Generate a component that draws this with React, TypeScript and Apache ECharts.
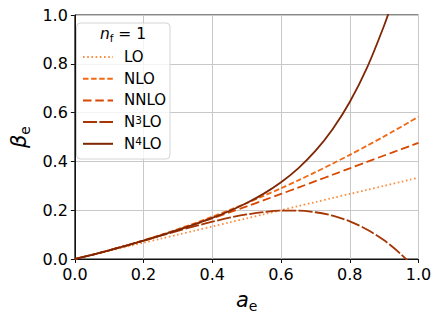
import React, { useEffect, useRef } from "react";
import * as echarts from "echarts";

const xs = [0, 0.05, 0.1, 0.15, 0.2, 0.25, 0.3, 0.35, 0.4, 0.45, 0.5, 0.55, 0.6, 0.65, 0.7, 0.75, 0.8, 0.85, 0.9, 0.925, 0.95, 0.975, 1.0];
const lo = [0, 0.0167, 0.0333, 0.05, 0.0667, 0.0833, 0.1, 0.1167, 0.1333, 0.15, 0.1667, 0.1833, 0.2, 0.2167, 0.2333, 0.25, 0.2667, 0.2833, 0.3, 0.3083, 0.3167, 0.325, 0.3333];
const nlo = [0, 0.0173, 0.0358, 0.0556, 0.0767, 0.099, 0.1225, 0.1473, 0.1733, 0.2006, 0.2292, 0.259, 0.29, 0.3223, 0.3558, 0.3906, 0.4267, 0.464, 0.5025, 0.5222, 0.5423, 0.5627, 0.5833];
const nnlo = [0, 0.0173, 0.0357, 0.0553, 0.0758, 0.0973, 0.1196, 0.1427, 0.1664, 0.1908, 0.2157, 0.2411, 0.2668, 0.2927, 0.3189, 0.3452, 0.3716, 0.3979, 0.4241, 0.4371, 0.45, 0.4629, 0.4757];
const n3lo = [0, 0.0173, 0.0357, 0.055, 0.075, 0.0953, 0.1153, 0.1347, 0.1528, 0.1691, 0.1826, 0.1926, 0.1981, 0.1981, 0.1916, 0.1775, 0.1545, 0.1212, 0.0764, 0.0491, 0.0183, -0.016, -0.0543];
const n4lo = [0, 0.0173, 0.0357, 0.0551, 0.0754, 0.0967, 0.119, 0.1427, 0.1683, 0.1968, 0.2295, 0.268, 0.3145, 0.3716, 0.4428, 0.5319, 0.6435, 0.7831, 0.9568, 1.0586, 1.1716, 1.297, 1.4357];

const seriesNames = ["LO", "NLO", "NNLO", "N³LO", "N⁴LO"];
const legendLabels = ["{n|LO}", "{n|NLO}", "{n|NNLO}", "{n|N}{p|3}{n|LO}", "{n|N}{p|4}{n|LO}"];
const seriesValues = [lo, nlo, nnlo, n3lo, n4lo];
const seriesColors = ["#fd8d3c", "#f16913", "#d94801", "#a63603", "#7f2704"];
const seriesDash: any[] = [[1.6, 2.6], [5.5, 2.6], [8.5, 3.8], [14, 2.4], "solid"];
const tickValues = ["0.0", "0.2", "0.4", "0.6", "0.8", "1.0"];

const FONT = "DejaVu Sans";

export default function App() {
  const ref = useRef<HTMLDivElement>(null);
  useEffect(() => {
    if (!ref.current) return;
    const chart = echarts.init(ref.current, null, { renderer: "svg" });
    const subRich = {
      i: { fontFamily: FONT, fontStyle: "italic", fontSize: 21, lineHeight: 26, color: "#000" },
      s: { fontFamily: FONT, fontSize: 14, lineHeight: 12, verticalAlign: "bottom", color: "#000" },
    };
    chart.setOption({
      animation: false,
      grid: { left: 69, right: 22.5, top: 15, bottom: 59, show: true, borderColor: "#111", borderWidth: 1, containLabel: false },
      xAxis: {
        type: "value",
        min: 0,
        max: 1,
        interval: 0.2,
        name: "{i|a}{s|e}",
        nameLocation: "middle",
        nameGap: 28,
        nameTextStyle: { rich: subRich },
        axisLine: { show: true, lineStyle: { color: "#111", width: 1 } },
        axisTick: { show: true, length: 4, lineStyle: { color: "#111" } },
        axisLabel: { fontFamily: FONT, fontSize: 16, color: "#000", margin: 7, formatter: (v: number) => tickValues[Math.round(v * 5)] ?? "" },
        splitLine: { show: true, lineStyle: { color: "#c8c8c8", width: 1 } },
      },
      yAxis: {
        type: "value",
        min: 0,
        max: 1,
        interval: 0.2,
        name: "{i|β}{s|e}",
        nameLocation: "middle",
        nameGap: 40,
        nameRotate: 90,
        nameTextStyle: { rich: subRich },
        axisLine: { show: true, lineStyle: { color: "#111", width: 1 } },
        axisTick: { show: true, length: 4, lineStyle: { color: "#111" } },
        axisLabel: { fontFamily: FONT, fontSize: 16, color: "#000", margin: 7, formatter: (v: number) => tickValues[Math.round(v * 5)] ?? "" },
        splitLine: { show: true, lineStyle: { color: "#c8c8c8", width: 1 } },
      },
      legend: {
        orient: "vertical",
        left: 82,
        top: 49,
        padding: 0,
        itemWidth: 30,
        itemHeight: 14,
        itemGap: 5.7,
        z: 6,
        itemStyle: { opacity: 0 },
        formatter: (name: string) => legendLabels[seriesNames.indexOf(name)] ?? name,
        textStyle: {
          fontFamily: FONT,
          fontSize: 15,
          lineHeight: 16,
          color: "#000",
          padding: [0, 0, 0, 6],
          rich: {
            n: { fontFamily: FONT, fontSize: 15, lineHeight: 16, color: "#000" },
            p: { fontFamily: FONT, fontSize: 10.5, lineHeight: 8, verticalAlign: "top", color: "#000" },
          },
        },
        data: seriesNames,
      },
      graphic: [
        {
          type: "rect",
          z: 5,
          shape: { x: 76.5, y: 23, width: 93.5, height: 136, r: 4 },
          style: { fill: "rgba(255,255,255,0.8)", stroke: "#d4d4d4", lineWidth: 1 },
        },
        {
          type: "text",
          z: 7,
          x: 123,
          y: 34,
          style: {
            text: "{i|n}{s|f}{r| = 1}",
            align: "center",
            verticalAlign: "middle",
            rich: {
              i: { fontFamily: FONT, fontStyle: "italic", fontSize: 15.5, lineHeight: 18, fill: "#000" },
              s: { fontFamily: FONT, fontSize: 10.5, lineHeight: 9, verticalAlign: "bottom", fill: "#000" },
              r: { fontFamily: FONT, fontSize: 15.5, lineHeight: 18, fill: "#000" },
            },
          },
        },
      ],
      series: seriesNames.map((name, k) => ({
        name,
        type: "line",
        showSymbol: false,
        symbol: "none",
        smooth: 0.3,
        clip: true,
        z: 2 + k * 0.1,
        lineStyle: { color: seriesColors[k], width: 1.8, type: seriesDash[k], cap: "butt" },
        itemStyle: { color: seriesColors[k] },
        data: xs.map((x, i) => [x, seriesValues[k][i]]),
      })),
    });
    return () => chart.dispose();
  }, []);
  return <div ref={ref} style={{ position: "absolute", left: 0, top: 0, width: 441, height: 318 }} />;
}
